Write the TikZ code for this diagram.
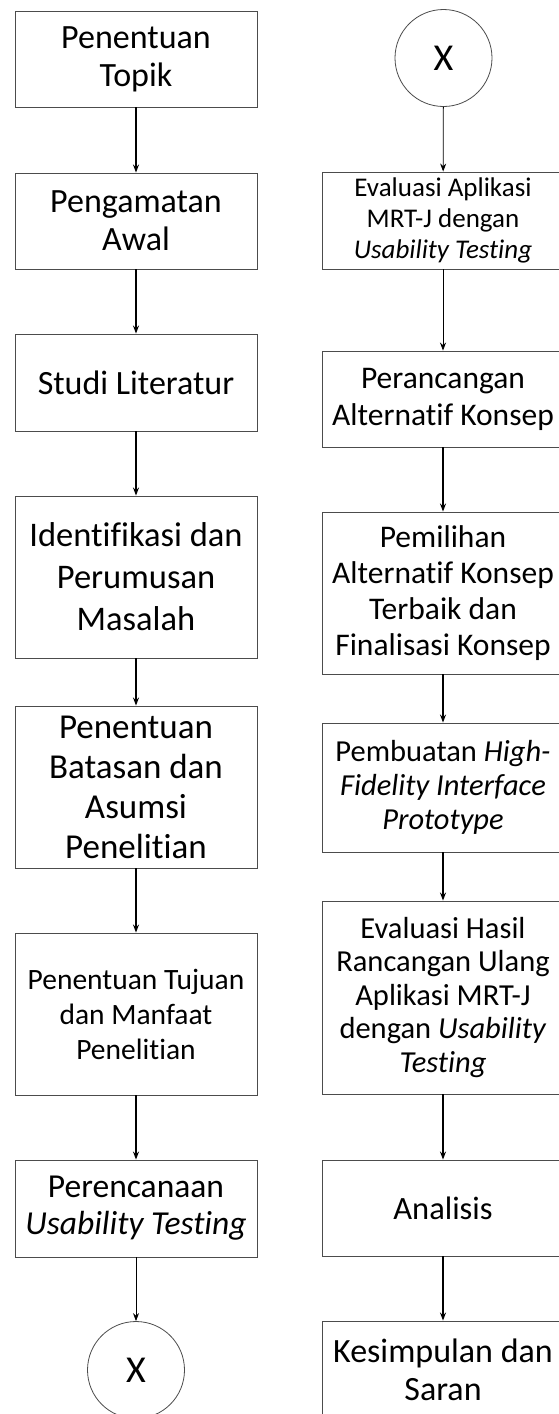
\documentclass[tikz,border=0pt]{standalone}
\usepackage{fontspec}
\setmainfont{Carlito}[Ligatures={NoCommon}]
\usetikzlibrary{arrows.meta}
\begin{document}
\begin{tikzpicture}[x=1pt,y=-1pt,
 box/.style={draw=black!70, line width=0.9pt, minimum width=242pt, align=center, inner sep=0pt, fill=white},
 conn/.style={circle, draw=black!70, line width=0.8pt, minimum size=97pt, inner sep=0pt, fill=white, font=\fontsize{38}{40}\selectfont},
 thickarr/.style={-{Stealth[length=8pt,width=6pt]}, line width=1.6pt},
 thinarr/.style={-{Stealth[length=8pt,width=6pt]}, line width=0.8pt}]
\useasboundingbox (0,0) rectangle (558,1414);
\fill[white] (0,0) rectangle (558,1414);
% left column
\node[box, minimum height=96pt, font=\fontsize{34}{38}\selectfont] (b1) at (136,59) {Penentuan\\Topik};
\node[box, minimum height=96pt, font=\fontsize{34}{38}\selectfont] (b2) at (136,221) {Pengamatan\\Awal};
\node[box, minimum height=97pt, font=\fontsize{34}{38}\selectfont] (b3) at (136,382.5) {Studi Literatur};
\node[box, minimum height=162pt, font=\fontsize{34.5}{42}\selectfont] (b4) at (136,577) {Identifikasi dan\\Perumusan\\Masalah};
\node[box, minimum height=162pt, font=\fontsize{35}{40}\selectfont] (b5) at (136,787) {Penentuan\\Batasan dan\\Asumsi\\Penelitian};
\node[box, minimum height=162pt, font=\fontsize{29.5}{35}\selectfont] (b6) at (136,1014) {Penentuan Tujuan\\dan Manfaat\\Penelitian};
\node[box, minimum height=97pt, font=\fontsize{33.5}{37}\selectfont] (b7) at (136,1208.5) {Perencanaan\\\textit{Usability Testing}};
\node[conn] (c1) at (136,1370) {X};
% right column
\node[conn] (c2) at (443.5,58) {X};
\node[box, minimum height=97pt, font=\fontsize{27}{31}\selectfont] (r1) at (443,220.5) {Evaluasi Aplikasi\\MRT-J dengan\\\textit{Usability Testing}};
\node[box, minimum height=96pt, font=\fontsize{31.5}{37}\selectfont] (r2) at (443,399) {Perancangan\\Alternatif Konsep};
\node[box, minimum height=162pt, font=\fontsize{31.5}{36}\selectfont] (r3) at (443,593) {Pemilihan\\Alternatif Konsep\\Terbaik dan\\Finalisasi Konsep};
\node[box, minimum height=129pt, font=\fontsize{30.5}{34}\selectfont] (r4) at (443,787.5) {Pembuatan \textit{High-}\\\textit{Fidelity Interface}\\\textit{Prototype}};
\node[box, minimum height=193pt, font=\fontsize{30.5}{33.5}\selectfont] (r5) at (443,997.5) {Evaluasi Hasil\\Rancangan Ulang\\Aplikasi MRT-J\\dengan \textit{Usability}\\\textit{Testing}};
\node[box, minimum height=96pt, font=\fontsize{32.5}{37}\selectfont] (r6) at (443,1208) {Analisis};
\node[box, minimum height=97pt, font=\fontsize{34}{38}\selectfont] (r7) at (443,1369.5) {Kesimpulan dan\\Saran};
% connectors
\draw[thickarr] (b1) -- (b2);
\draw[thickarr] (b2) -- (b3);
\draw[thickarr] (b3) -- (b4);
\draw[thickarr] (b4) -- (b5);
\draw[thickarr] (b5) -- (b6);
\draw[thickarr] (b6) -- (b7);
\draw[thinarr] (b7) -- (c1);
\draw[thinarr] (c2) -- (r1);
\draw[thinarr] (r1) -- (r2);
\draw[thickarr] (r2) -- (r3);
\draw[thickarr] (r3) -- (r4);
\draw[thickarr] (r4) -- (r5);
\draw[thickarr] (r5) -- (r6);
\draw[thickarr] (r6) -- (r7);
\end{tikzpicture}
\end{document}
